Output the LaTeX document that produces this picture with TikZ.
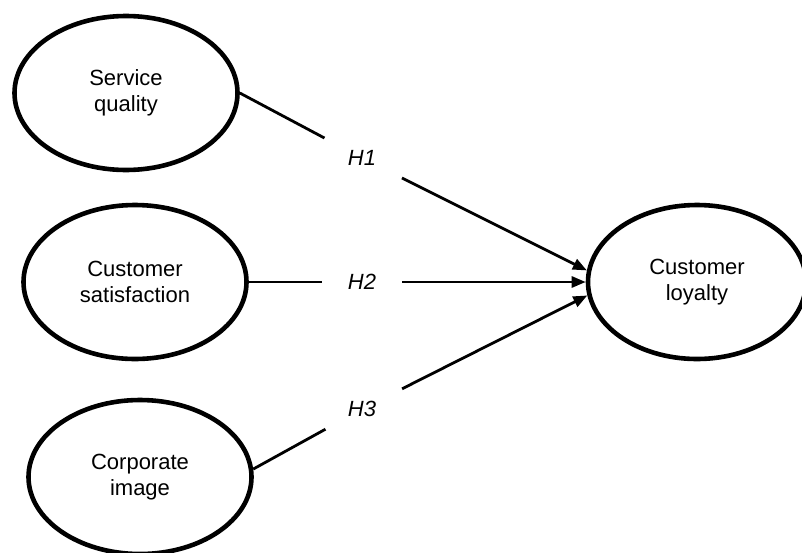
\documentclass[tikz,border=0pt]{standalone}
\usepackage{fontspec}
\setmainfont{Liberation Sans}
\usetikzlibrary{positioning}
\usetikzlibrary{shapes}
\usetikzlibrary{arrows.meta}

\begin{document}
\begin{tikzpicture}[
x=0.5pt, y=-0.5pt,
font=\fontsize{11}{13}\selectfont,
lnk/.style={draw, line width=1.4pt},
hyp/.style={lnk, -{Triangle[length=7pt,width=5.5pt]}}
]

\tikzstyle{el} = [draw, shape=ellipse, line width=2.3pt, inner sep=0pt, minimum width=111.5pt, minimum height=77pt, align=center]
\tikzstyle{lab} = [font=\fontsize{11}{13}\selectfont\itshape, inner xsep=13pt, inner ysep=6pt]

\useasboundingbox (0,0) rectangle (802,552);

% constructs
\node[el] (sq) at (126,93)  {Service\\quality};
\node[el] (cs) at (135,282) {Customer\\satisfaction};
\node[el] (ci) at (140,477) {Corporate\\image};
\node[el, minimum width=109pt] (cl) at (697,282) {Customer\\loyalty};

% hypotheses
\node[lab] (h1) at (362,158) {H1};
\node[lab] (h2) at (362,282) {H2};
\node[lab] (h3) at (362,409) {H3};

\draw[lnk] (sq.east) -- (h1);
\draw[hyp] (h1) -- (cl.174);
\draw[lnk] (cs) -- (h2);
\draw[hyp] (h2) -- (cl);
\draw[lnk] (ci.4) -- (h3);
\draw[hyp] (h3) -- (cl.187);
\end{tikzpicture}
\end{document}
